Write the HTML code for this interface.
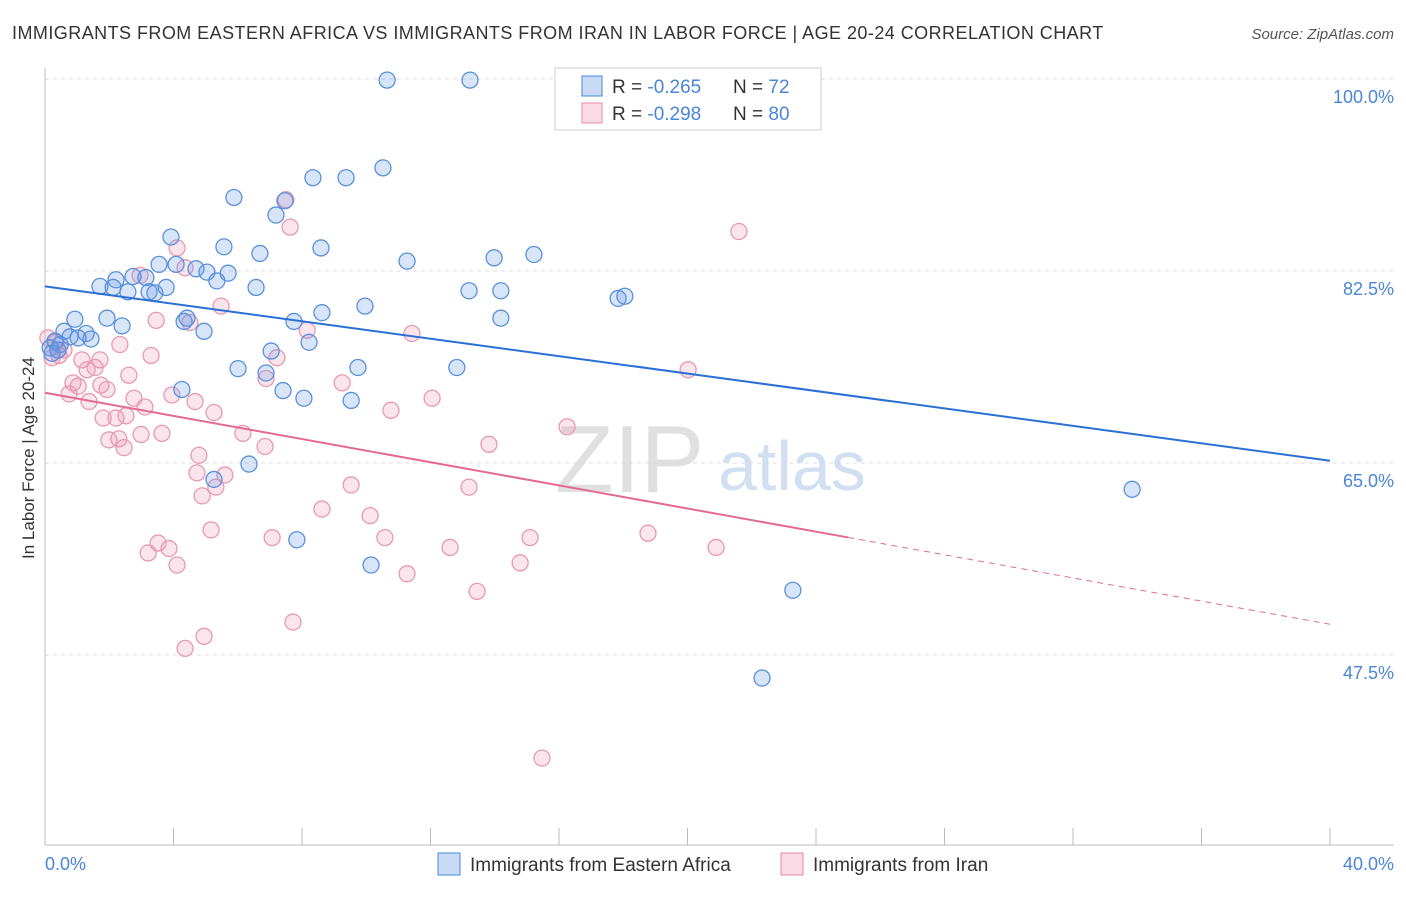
<!DOCTYPE html>
<html><head><meta charset="utf-8">
<style>
body{margin:0;background:#fff;font-family:"Liberation Sans",sans-serif;}
svg text{font-family:"Liberation Sans",sans-serif;}
</style></head>
<body>
<svg id="chart" width="1406" height="892" xmlns="http://www.w3.org/2000/svg">
<text x="12" y="39" font-size="18" fill="#333" letter-spacing="0.45">IMMIGRANTS FROM EASTERN AFRICA VS IMMIGRANTS FROM IRAN IN LABOR FORCE | AGE 20-24 CORRELATION CHART</text>
<text x="1394" y="39" font-size="15" fill="#555" font-style="italic" text-anchor="end">Source: ZipAtlas.com</text>
<g id="grid"></g>
<g>
<text x="555" y="492" font-size="96" fill="#d9d9d9" font-family="Liberation Serif" opacity="0.8">ZIP</text>
<text x="718" y="490" font-size="70" fill="#c8d8ee" opacity="0.8">atlas</text>
</g>
<g id="marks"></g>
<text transform="translate(34,458) rotate(-90)" font-size="17" fill="#333" text-anchor="middle">In Labor Force | Age 20-24</text>
<text x="45" y="870" font-size="18" fill="#4a86d8">0.0%</text>
<text x="1394" y="870" font-size="18" fill="#4a86d8" text-anchor="end">40.0%</text>
<g>
<rect x="555" y="68" width="266" height="62" fill="#fff" stroke="#ccc"/>
<rect x="582" y="76" width="20" height="20" fill="rgba(100,150,230,0.35)" stroke="#4a86d8"/>
<rect x="582" y="103" width="20" height="20" fill="rgba(240,150,180,0.35)" stroke="#e888aa"/>
<text x="612" y="93" font-size="19" fill="#333">R = <tspan fill="#4a86d8">-0.265</tspan></text>
<text x="733" y="93" font-size="19" fill="#333">N = <tspan fill="#4a86d8">72</tspan></text>
<text x="612" y="120" font-size="19" fill="#333">R = <tspan fill="#4a86d8">-0.298</tspan></text>
<text x="733" y="120" font-size="19" fill="#333">N = <tspan fill="#4a86d8">80</tspan></text>
</g>
<g>
<rect x="438" y="853" width="22" height="22" fill="rgba(100,150,230,0.35)" stroke="#4a86d8"/>
<text x="470" y="871" font-size="19" fill="#333">Immigrants from Eastern Africa</text>
<rect x="781" y="853" width="22" height="22" fill="rgba(240,150,180,0.35)" stroke="#e888aa"/>
<text x="813" y="871" font-size="19" fill="#333">Immigrants from Iran</text>
</g>
</svg>
<script>
const yTicks=[100,82.5,65,47.5];
const xTicks=[0,4,8,12,16,20,24,28,32,36,40];
const blueX=[10.65,13.23,10.52,8.34,9.37,5.88,7.47,7.19,3.92,8.59,5.57,6.69,15.22,13.98,11.27,3.55,4.08,4.70,5.04,5.70,3.14,2.21,2.74,1.71,2.12,2.58,3.24,3.42,3.77,5.35,6.57,13.20,14.19,17.84,18.05,9.96,8.62,7.75,14.19,4.42,4.33,4.95,1.93,2.40,0.93,0.59,1.28,1.03,0.78,1.43,0.31,0.47,0.16,8.22,7.04,6.01,9.74,12.82,6.88,4.26,7.41,8.06,9.53,6.35,5.26,33.84,7.84,10.15,23.28,22.32,0.40,0.22];
const blueY=[99.9,99.9,91.9,91.0,91.0,89.2,88.9,87.6,85.6,84.6,84.7,84.1,84.0,83.7,83.4,83.1,83.1,82.7,82.4,82.3,81.9,81.7,82.0,81.1,81.0,80.6,80.6,80.5,81.0,81.6,81.0,80.7,80.7,80.0,80.2,79.3,78.7,77.9,78.2,78.2,77.9,77.0,78.2,77.5,78.1,77.0,76.8,76.4,76.5,76.3,76.1,75.8,75.5,76.0,75.2,73.6,73.7,73.7,73.2,71.7,71.6,70.9,70.7,64.9,63.5,62.6,58.0,55.7,53.4,45.4,75.3,75.0];
const pinkX=[7.50,7.63,21.60,4.11,4.36,2.96,5.48,3.46,4.51,8.16,11.42,0.09,0.34,0.59,0.44,0.22,7.22,3.30,1.15,1.56,1.31,2.61,20.02,6.88,0.87,1.03,1.93,1.74,0.75,9.25,3.95,4.67,2.77,1.37,3.11,5.26,10.77,12.05,2.52,1.81,2.21,16.25,6.16,3.64,2.99,1.99,2.30,2.46,6.85,13.82,4.79,4.73,9.53,5.32,13.20,4.89,8.62,10.12,5.17,18.77,7.07,10.58,15.10,3.52,12.61,20.89,3.86,3.21,4.11,14.79,11.27,13.45,7.72,4.95,4.36,15.47,5.60,1.71,0.40,2.33];
const pinkY=[89.0,86.5,86.1,84.6,82.8,82.1,79.3,78.0,77.8,77.1,76.8,76.4,76.0,75.3,74.8,74.6,74.6,74.8,74.4,73.7,73.5,73.0,73.5,72.7,72.3,72.0,71.7,72.1,71.3,72.3,71.2,70.6,70.9,70.6,70.1,69.6,69.8,70.9,69.3,69.1,69.1,68.3,67.7,67.7,67.6,67.1,67.2,66.4,66.5,66.7,65.7,64.1,63.0,62.8,62.8,62.0,60.8,60.2,58.9,58.6,58.2,58.2,58.2,57.7,57.3,57.3,57.2,56.8,55.7,55.9,54.9,53.3,50.5,49.2,48.1,38.1,63.9,74.4,75.3,75.8];
const blueTrend=[81.1,65.2];
const pinkTrend=[71.4,50.3];
const pinkSolidEnd=25;

const NS="http://www.w3.org/2000/svg";
const X0=45,X1=1330,Y0=79,PXPER=10.971;
function sx(v){return X0+v/40*(X1-X0);}
function sy(v){return Y0+(100-v)*PXPER;}
function mk(tag,attrs,parent){const e=document.createElementNS(NS,tag);for(const k in attrs)e.setAttribute(k,attrs[k]);parent.appendChild(e);return e;}
const grid=document.getElementById('grid');
const marks=document.getElementById('marks');
yTicks.forEach(t=>{
  const l=mk('line',{x1:X0,x2:1394,y1:sy(t),y2:sy(t),stroke:'#ddd','stroke-dasharray':'4,4'},grid);
  
  
  const tx=mk('text',{x:1394,y:sy(t)+24,'font-size':18,fill:'#4a86d8','text-anchor':'end'},grid);
  tx.textContent=t.toFixed(1)+'%';
  
  
});
mk('line',{x1:X0,x2:X0,y1:68,y2:845,stroke:'#bbb'},grid);
mk('line',{x1:X0,x2:1394,y1:845,y2:845,stroke:'#bbb'},grid);
xTicks.forEach(t=>{
  const l=mk('line',{x1:sx(t),x2:sx(t),y1:828,y2:845,stroke:'#bbb'},grid);
  
  
});
function dots(xs,ys,fill,stroke,name){
  xs.forEach((x,i)=>{
    const c=mk('circle',{cx:sx(x),cy:sy(ys[i]),r:8,fill:fill,stroke:stroke,'stroke-width':1.3},marks);
    
    
  });
}
dots(pinkX,pinkY,'rgba(240,150,180,0.25)','#e898b4','iran-point');
dots(blueX,blueY,'rgba(100,150,230,0.25)','#5a90dc','eastern-africa-point');
const bl=mk('line',{x1:sx(0),y1:sy(blueTrend[0]),x2:sx(40),y2:sy(blueTrend[1]),stroke:'#2a6fd6','stroke-width':2},marks);


const pm=pinkTrend[0]+(pinkTrend[1]-pinkTrend[0])*pinkSolidEnd/40;
const pl=mk('line',{x1:sx(0),y1:sy(pinkTrend[0]),x2:sx(pinkSolidEnd),y2:sy(pm),stroke:'#e46a96','stroke-width':2},marks);


const pd=mk('line',{x1:sx(pinkSolidEnd),y1:sy(pm),x2:sx(40),y2:sy(pinkTrend[1]),stroke:'#e46a96','stroke-width':1,'stroke-dasharray':'6,5'},marks);


</script>
</body></html>
